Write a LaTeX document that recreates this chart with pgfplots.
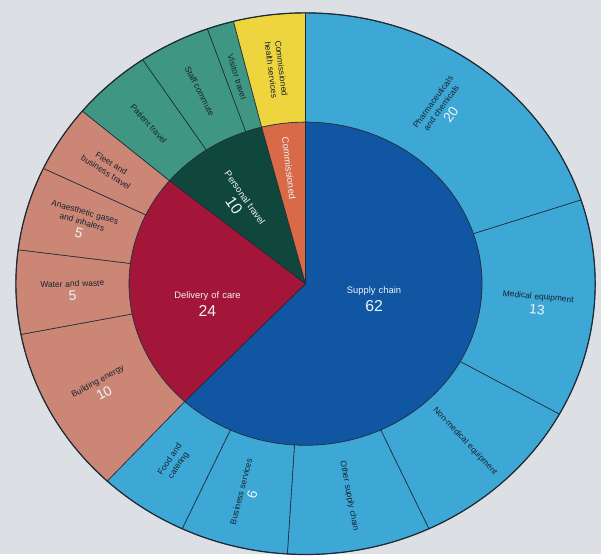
\documentclass[border=0pt]{standalone}
\usepackage{pgfplots}
\usepackage{pgfplotstable}
\pgfplotsset{compat=1.18}
\usepackage{fontspec}
\setmainfont{Liberation Sans}

\definecolor{bg}{HTML}{DCDFE3}
\definecolor{cSupI}{HTML}{1156A3}
\definecolor{cSupO}{HTML}{3DA8D6}
\definecolor{cCareI}{HTML}{A3163A}
\definecolor{cCareO}{HTML}{CC8676}
\definecolor{cTravI}{HTML}{10473D}
\definecolor{cTravO}{HTML}{3F9683}
\definecolor{cCommI}{HTML}{D86A48}
\definecolor{cCommO}{HTML}{EED53E}
\definecolor{sep}{HTML}{1E2A36}
\definecolor{labc}{HTML}{16222E}
\definecolor{numc}{HTML}{EEF3F7}

\newcommand\labfont{\fontsize{8.5}{10.5}\selectfont}
\newcommand\onumfont{\fontsize{14}{15}\selectfont}
\newcommand\ilabfont{\fontsize{9.5}{11.5}\selectfont}
\newcommand\inumfont{\fontsize{16}{18}\selectfont}

\pgfplotstableread[col sep=semicolon]{
value;num;col;tw;label
20;20;cSupO;75;Pharmaceuticals and chemicals
13;13;cSupO;100;Medical equipment
10;0;cSupO;100;Non-medical equipment
8;0;cSupO;95;Other supply chain
6;6;cSupO;85;Business services
5;0;cSupO;45;Food and catering
10;10;cCareO;95;Building energy
5;5;cCareO;90;Water and waste
5;5;cCareO;80;Anaesthetic gases and inhalers
4;0;cCareO;80;Fleet and business travel
4.5;0;cTravO;60;Patient travel
4;0;cTravO;60;Staff commute
1.5;0;cTravO;80;Visitor travel
4;0;cCommO;70;Commissioned health services
}\outerdata

\pgfplotstableread[col sep=semicolon]{
value;num;col;la;lr;rot;tw;label
62;62;cSupI;-14;0.40;0;90;Supply chain
24;24;cCareI;193;0.57;0;95;Delivery of care
10;10;cTravI;127;0.63;-55;90;Personal travel
4;0;cCommI;97.5;0.72;-83;80;Commissioned
}\innerdata

\def\cx{308}\def\cy{272}
\def\Rox{292}\def\Roy{273}\def\Rix{178}\def\Riy{163}
\def\Rmx{235}\def\Rmy{218}

\begin{document}
\hyphenpenalty=10000 \exhyphenpenalty=10000
\begin{tikzpicture}
\begin{axis}[scale only axis, width=606bp, height=558bp,
  xmin=0, xmax=606, ymin=0, ymax=558, hide axis, clip=false]
\path[fill=bg] (axis cs:0,0) rectangle (axis cs:606,558);

% ---------- inner ring ----------
\pgfplotstablegetrowsof{\innerdata}
\pgfmathtruncatemacro\nin{\pgfplotsretval-1}
\def\cum{0}
\pgfplotsforeachungrouped \ii in {0,...,\nin}{%
  \pgfplotstablegetelem{\ii}{value}\of\innerdata \let\wV\pgfplotsretval
  \pgfplotstablegetelem{\ii}{num}\of\innerdata \let\wN\pgfplotsretval
  \pgfplotstablegetelem{\ii}{col}\of\innerdata \let\wC\pgfplotsretval
  \pgfplotstablegetelem{\ii}{la}\of\innerdata \let\wA\pgfplotsretval
  \pgfplotstablegetelem{\ii}{lr}\of\innerdata \let\wR\pgfplotsretval
  \pgfplotstablegetelem{\ii}{rot}\of\innerdata \let\wT\pgfplotsretval
  \pgfplotstablegetelem{\ii}{tw}\of\innerdata \let\wW\pgfplotsretval
  \pgfplotstablegetelem{\ii}{label}\of\innerdata \let\wL\pgfplotsretval
  \pgfmathsetmacro\ta{90-3.6*\cum}
  \pgfmathsetmacro\cumb{\cum+\wV}
  \pgfmathsetmacro\tb{90-3.6*\cumb}
  \pgfmathsetmacro\xb{\cx+\Rix*cos(\ta)}
  \pgfmathsetmacro\yb{\cy+\Riy*sin(\ta)}
  \edef\temp{\noexpand\path[fill=\wC, draw=sep, line width=0.6pt]
    (axis cs:\cx,\cy) -- (axis cs:\xb,\yb)
    arc[start angle=\ta, end angle=\tb, x radius=\Rix bp, y radius=\Riy bp] -- cycle;}
  \temp
  \pgfmathsetmacro\xl{\cx+\wR*\Rix*cos(\wA)}
  \pgfmathsetmacro\yl{\cy+\wR*\Riy*sin(\wA)}
  \ifnum\wN=0
    \edef\temp{\noexpand\node[rotate=\wT, text width=\wW bp, align=center,
      font=\noexpand\ilabfont, text=numc] at (axis cs:\xl,\yl) {\wL};}
  \else
    \edef\temp{\noexpand\node[rotate=\wT, text width=\wW bp, align=center,
      font=\noexpand\ilabfont, text=numc] at (axis cs:\xl,\yl)
      {\wL\noexpand\\[4pt]\noexpand\inumfont \wN};}
  \fi
  \temp
  \let\cum\cumb
}

% ---------- outer ring ----------
\pgfplotstablegetrowsof{\outerdata}
\pgfmathtruncatemacro\nout{\pgfplotsretval-1}
\def\cum{0}
\pgfplotsforeachungrouped \ii in {0,...,\nout}{%
  \pgfplotstablegetelem{\ii}{value}\of\outerdata \let\wV\pgfplotsretval
  \pgfplotstablegetelem{\ii}{num}\of\outerdata \let\wN\pgfplotsretval
  \pgfplotstablegetelem{\ii}{col}\of\outerdata \let\wC\pgfplotsretval
  \pgfplotstablegetelem{\ii}{tw}\of\outerdata \let\wW\pgfplotsretval
  \pgfplotstablegetelem{\ii}{label}\of\outerdata \let\wL\pgfplotsretval
  \pgfmathsetmacro\ta{90-3.6*\cum}
  \pgfmathsetmacro\cumb{\cum+\wV}
  \pgfmathsetmacro\tb{90-3.6*\cumb}
  \pgfmathsetmacro\tm{(\ta+\tb)/2}
  \pgfmathsetmacro\xa{\cx+\Rix*cos(\ta)}
  \pgfmathsetmacro\ya{\cy+\Riy*sin(\ta)}
  \pgfmathsetmacro\xb{\cx+\Rox*cos(\ta)}
  \pgfmathsetmacro\yb{\cy+\Roy*sin(\ta)}
  \pgfmathsetmacro\xc{\cx+\Rix*cos(\tb)}
  \pgfmathsetmacro\yc{\cy+\Riy*sin(\tb)}
  \edef\temp{\noexpand\path[fill=\wC, draw=sep, line width=0.6pt]
    (axis cs:\xa,\ya) -- (axis cs:\xb,\yb)
    arc[start angle=\ta, end angle=\tb, x radius=\Rox bp, y radius=\Roy bp]
    -- (axis cs:\xc,\yc)
    arc[start angle=\tb, end angle=\ta, x radius=\Rix bp, y radius=\Riy bp] -- cycle;}
  \temp
  \pgfmathsetmacro\xl{\cx+\Rmx*cos(\tm)}
  \pgfmathsetmacro\yl{\cy+\Rmy*sin(\tm)}
  \pgfmathparse{cos(\tm)>=0 ? \tm : \tm+180}\let\wT\pgfmathresult
  \ifnum\wN=0
    \edef\temp{\noexpand\node[rotate=\wT, text width=\wW bp, align=center,
      font=\noexpand\labfont, text=labc] at (axis cs:\xl,\yl) {\wL};}
  \else
    \edef\temp{\noexpand\node[rotate=\wT, text width=\wW bp, align=center,
      font=\noexpand\labfont, text=labc] at (axis cs:\xl,\yl)
      {\wL\noexpand\\[3pt]\noexpand\color{numc}\noexpand\onumfont \wN};}
  \fi
  \temp
  \let\cum\cumb
}
\draw[sep, line width=1.2pt] (axis cs:\cx,\cy) ellipse[x radius=\Rox bp, y radius=\Roy bp];
\end{axis}
\end{tikzpicture}
\end{document}
